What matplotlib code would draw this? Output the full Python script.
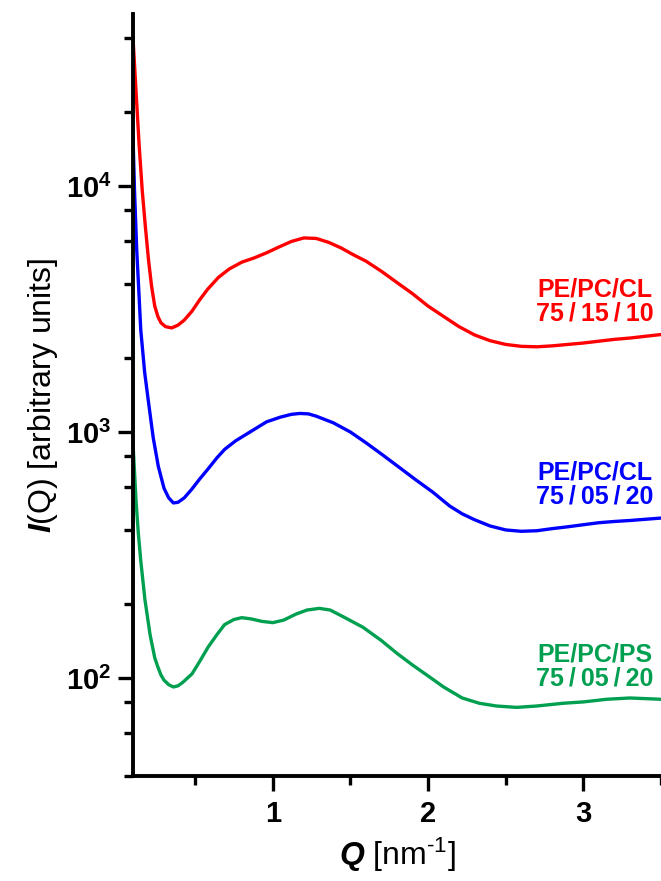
import math
import matplotlib
matplotlib.use("Agg")
import matplotlib.pyplot as plt
from matplotlib.ticker import LogLocator, FixedLocator, FuncFormatter

plt.rcParams['font.family'] = ['Liberation Sans', 'DejaVu Sans']
plt.rcParams['mathtext.fontset'] = 'custom'
plt.rcParams['mathtext.rm'] = 'Liberation Sans'
plt.rcParams['mathtext.bf'] = 'Liberation Sans:bold'
plt.rcParams['mathtext.it'] = 'Liberation Sans:italic'
plt.rcParams['mathtext.bfit'] = 'Liberation Sans:bold:italic'

# --- data (Q in nm^-1, I in arbitrary units) ---
q_red = [0.10, 0.12, 0.14, 0.16, 0.18, 0.20, 0.22, 0.24, 0.26, 0.28, 0.31,
         0.35, 0.39, 0.43, 0.48, 0.53, 0.58, 0.65, 0.72, 0.80, 0.88, 0.96,
         1.04, 1.12, 1.20, 1.28, 1.36, 1.44, 1.52, 1.60, 1.70, 1.80, 1.90,
         2.00, 2.10, 2.20, 2.30, 2.40, 2.50, 2.60, 2.70, 2.80, 2.90, 3.00,
         3.10, 3.20, 3.30, 3.40, 3.50]
i_red = [40000, 24000, 14500, 9500, 6800, 5000, 3900, 3250, 2950, 2780, 2680,
         2650, 2720, 2850, 3100, 3450, 3800, 4250, 4600, 4900, 5100, 5350,
         5650, 5950, 6150, 6120, 5900, 5600, 5250, 4950, 4500, 4050, 3650,
         3250, 2950, 2680, 2480, 2350, 2270, 2230, 2220, 2240, 2270, 2300,
         2340, 2380, 2410, 2450, 2490]

q_blue = [0.10, 0.11, 0.124, 0.137, 0.15, 0.175, 0.198, 0.23, 0.263, 0.30,
          0.33, 0.36, 0.39, 0.43, 0.478, 0.53, 0.585, 0.64, 0.69, 0.76,
          0.853, 0.96, 1.05, 1.12, 1.175, 1.23, 1.28, 1.39, 1.50, 1.605,
          1.71, 1.82, 1.92, 2.03, 2.14, 2.22, 2.30, 2.40, 2.50, 2.60, 2.70,
          2.80, 2.90, 3.00, 3.10, 3.20, 3.30, 3.40, 3.50]
i_blue = [16000, 9500, 5500, 3800, 2600, 1750, 1350, 950, 725, 590,
          540, 515, 518, 540, 585, 645, 710, 785, 850, 920,
          1000, 1100, 1150, 1180, 1190, 1185, 1160, 1090, 1000, 900,
          805, 714, 640, 570, 500, 465, 440, 415, 400, 395, 397,
          405, 412, 420, 428, 433, 437, 442, 447]

q_green = [0.10, 0.12, 0.134, 0.15, 0.177, 0.21, 0.24, 0.26, 0.28, 0.30,
           0.33, 0.36, 0.39, 0.42, 0.48, 0.53, 0.585, 0.64, 0.69, 0.75,
           0.80, 0.86, 0.93, 1.00, 1.07, 1.15, 1.22, 1.30, 1.37, 1.45,
           1.58, 1.70, 1.80, 1.90, 2.01, 2.10, 2.22, 2.33, 2.44, 2.57,
           2.70, 2.87, 3.00, 3.15, 3.30, 3.50]
i_green = [900, 520, 390, 300, 208, 150, 121, 111, 103, 98,
           94, 92, 93, 96, 104, 117, 134, 150, 165, 173,
           176, 174, 170, 168, 172, 182, 189, 192, 189, 178,
           161, 142, 126, 113, 101, 92, 83, 79, 77, 76,
           77, 79, 80, 82, 83, 82]

labels = ["PE/PC/CL\n75\u2009/\u200915\u2009/\u200910",
          "PE/PC/CL\n75\u2009/\u200905\u2009/\u200920",
          "PE/PC/PS\n75\u2009/\u200905\u2009/\u200920"]
label_pos = [(3.075, 3400), (3.075, 610), (3.075, 111)]
colors = ["#FF0000", "#0000FF", "#00A050"]

fig = plt.figure(figsize=(6.61, 8.81), dpi=100)
ax = fig.add_axes([0.2012, 0.1192, 0.7988, 0.8649])

for q, i, c in zip([q_red, q_blue, q_green], [i_red, i_blue, i_green], colors):
    ax.plot(q, i, color=c, lw=2.4, solid_joinstyle='round')

for txt, (x, y), c in zip(labels, label_pos, colors):
    ax.text(x, y, txt, color=c, fontsize=18, fontweight='bold',
            ha='center', va='center', linespacing=1.0)

ax.set_yscale('log')
ax.set_xlim(0.1, 3.5)
ax.set_ylim(40, 50000)

ax.xaxis.set_major_locator(FixedLocator([1, 2, 3]))
ax.xaxis.set_minor_locator(FixedLocator([0.5, 1.5, 2.5, 3.5]))
ax.yaxis.set_major_locator(LogLocator(base=10, subs=(1.0,)))
ax.yaxis.set_minor_locator(LogLocator(base=10, subs=(2, 4, 6, 8)))
ax.yaxis.set_major_formatter(
    FuncFormatter(lambda v, p: r'$\mathbf{10^{%d}}$' % round(math.log10(v))))
ax.yaxis.set_minor_formatter(FuncFormatter(lambda v, p: ''))
ax.xaxis.set_major_formatter(FuncFormatter(lambda v, p: '%d' % v))

for s in ['top', 'right']:
    ax.spines[s].set_visible(False)
for s in ['left', 'bottom']:
    ax.spines[s].set_linewidth(2.8)

ax.tick_params(which='major', direction='out', length=10.5, width=2.4,
               labelsize=21, pad=5)
ax.tick_params(which='minor', direction='out', length=6.5, width=2.4)
ax.tick_params(axis='x', which='major', pad=7)
for lab in ax.get_xticklabels() + ax.get_yticklabels():
    lab.set_fontweight('bold')

ax.set_xlabel('$\\mathbfit{Q}$ [nm$^{\\mathregular{\u2010}1}$]', fontsize=23, labelpad=5)
ax.set_ylabel(r'$\mathbfit{I}$(Q) [arbitrary units]', fontsize=23, labelpad=4)

fig.savefig("out.png", dpi=100)
